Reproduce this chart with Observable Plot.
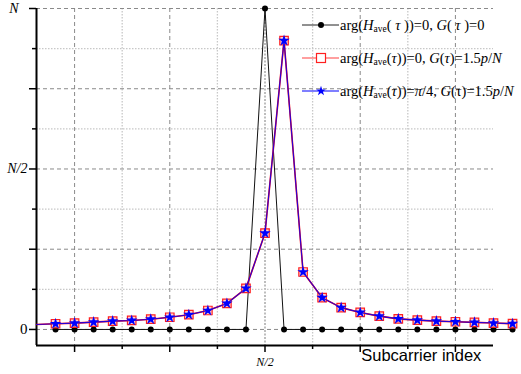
<!DOCTYPE html>
<html><head><meta charset="utf-8">
<script src="https://cdn.jsdelivr.net/npm/d3@7"></script>
<script src="https://cdn.jsdelivr.net/npm/@observablehq/plot@0.6"></script>
<style>
body{margin:0;background:#fff;}
#wrap{position:relative;width:521px;height:374px;}
#legend{position:absolute;left:0;top:0;font-family:"Liberation Serif",serif;font-size:14.5px;color:#000;}
.row{position:absolute;left:302px;height:16px;white-space:nowrap;display:flex;align-items:center;}
.row svg{display:block;}
sub{font-size:9.5px;vertical-align:-2px;}
</style></head>
<body><div id="wrap"><div id="legend"></div></div>
<script>
// subcarrier index (relative), N/2 sits at index 11
const idxBlack = d3.range(0, 25);
const valBlack = [0,0,0,0,0,0,0,0,0,0,0,1,0,0,0,0,0,0,0,0,0,0,0,0,0];
const idxShift = d3.range(-1, 25);
const valRed = [0.0156,0.0178,0.0197,0.0228,0.0259,0.028,0.032,0.038,0.046,0.059,0.081,0.128,0.300,0.900,0.179,0.099,0.068,0.053,0.0415,0.033,0.029,0.026,0.024,0.022,0.020,0.018];
const valBlue = [0.0156,0.0178,0.0197,0.0228,0.0259,0.028,0.032,0.038,0.046,0.059,0.081,0.128,0.300,0.900,0.179,0.099,0.068,0.053,0.0415,0.033,0.029,0.026,0.024,0.022,0.020,0.018];
const xMajor = [1, 6, 11, 16, 21];
const xGridDashed = [1, 6, 16, 21];
const xGridDotted = [3.5, 8.5, 13.5, 18.5];
const xGridCenter = [11];
const xMinor = [3.5, 8.5, 13.5, 18.5];
const yMajor = [0, 0.25, 0.5, 0.75, 1];
const yMinor = [0.125, 0.375, 0.625, 0.875];
const xTickLabels = [{v: 11, t: "N/2"}];
const yLabelTop = [{v: 1, t: "N"}];
const yLabelMid = [{v: 0.5, t: "N/2"}];
const yLabelZero = [{v: 0, t: "0"}];
const xTitle = ["Subcarrier index"];
const legendLabels = [
  'arg(<i>H</i><sub>ave</sub>( <i>τ</i> ))=0, <i>G</i>( <i>τ</i> )=0',
  'arg(<i>H</i><sub>ave</sub>(<i>τ</i>))=0, <i>G</i>(<i>τ</i>)=1.5<i>p</i>/<i>N</i>',
  'arg(<i>H</i><sub>ave</sub>(<i>τ</i>))=<i>π</i>/4, <i>G</i>(τ)=1.5<i>p</i>/<i>N</i>'
];

const black = idxBlack.map((x, i) => ({x, y: valBlack[i]}));
const red = idxShift.map((x, i) => ({x, y: valRed[i]}));
const blue = idxShift.map((x, i) => ({x, y: valBlue[i]}));
const redPts = red.filter(d => d.x >= 0);
const bluePts = blue.filter(d => d.x >= 0);

const chart = Plot.plot({
  width: 521, height: 374,
  marginLeft: 36, marginRight: 28, marginTop: 8, marginBottom: 29,
  x: {domain: [-1, 23], label: null},
  y: {domain: [-0.05, 1], label: null},
  style: {fontFamily: "'Liberation Serif', serif", fontSize: "13px", overflow: "visible", background: "#fff"},
  marks: [
    Plot.ruleX(xGridDotted, {stroke: "#c8c8c8", strokeDasharray: "1.5,1.5", strokeWidth: 1.3}),
    Plot.ruleX(xGridCenter, {stroke: "#bdbdbd", strokeDasharray: "2,1.5", strokeWidth: 2}),
    Plot.ruleY(yMinor, {stroke: "#c8c8c8", strokeDasharray: "1.5,1.5", strokeWidth: 1.3}),
    Plot.ruleX(xGridDashed, {stroke: "#8a8a8a", strokeDasharray: "4,3", strokeWidth: 1}),
    Plot.ruleY(yMajor, {stroke: "#8a8a8a", strokeDasharray: "4,3", strokeWidth: 1}),
    Plot.ruleX([-1], {stroke: "#000", strokeWidth: 2}),
    Plot.ruleY([-0.05], {stroke: "#000", strokeWidth: 2}),
    Plot.axisX(xMajor, {tickSize: 7, tickFormat: () => "", strokeWidth: 1.5, label: null}),
    Plot.axisX(xMinor, {tickSize: 4, tickFormat: () => "", strokeWidth: 1.5, label: null}),
    Plot.axisY(yMajor, {tickSize: 7, tickFormat: () => "", strokeWidth: 1.5, label: null}),
    Plot.axisY(yMinor, {tickSize: 4, tickFormat: () => "", strokeWidth: 1.5, label: null}),
    Plot.text(xTickLabels, {x: "v", y: -0.05, text: "t", dy: 17, fontStyle: "italic", fontSize: 12}),
    Plot.text(yLabelTop, {x: -1, y: "v", text: "t", dx: -18, textAnchor: "end", fontStyle: "italic", fontSize: 14}),
    Plot.text(yLabelMid, {x: -1, y: "v", text: "t", dx: -9, textAnchor: "end", fontStyle: "italic", fontSize: 14}),
    Plot.text(yLabelZero, {x: -1, y: "v", text: "t", dx: -9, textAnchor: "end", fontSize: 15}),
    Plot.text(xTitle, {x: 16, y: -0.05, text: d => d, textAnchor: "start", dx: 1, dy: 10, fontFamily: "'Liberation Sans', sans-serif", fontSize: 16.5}),
    Plot.line(black, {x: "x", y: "y", stroke: "#111", strokeWidth: 1}),
    Plot.dot(black, {x: "x", y: "y", r: 3, fill: "#000", stroke: "none"}),
    Plot.line(red, {x: "x", y: "y", stroke: "#ff0000", strokeWidth: 1.6}),
    Plot.dot(redPts, {x: "x", y: "y", symbol: "square", r: 4.8, stroke: "#ff2020", strokeWidth: 1.2, fill: "#ffb0b0", fillOpacity: 0.6}),
    Plot.line(blue, {x: "x", y: "y", stroke: "#0000ff", strokeWidth: 1.1, strokeOpacity: 0.85}),
    Plot.dot(bluePts, {x: "x", y: "y", symbol: "star", r: 3.6, fill: "#0000ff", stroke: "none"})
  ]
});
document.getElementById("wrap").prepend(chart);

// legend
const legend = document.getElementById("legend");
const markers = [
  '<line x1="0" y1="8" x2="37" y2="8" stroke="#222" stroke-width="1"/><circle cx="19" cy="8" r="3" fill="#000"/>',
  '<line x1="0" y1="8" x2="37" y2="8" stroke="#ff4040" stroke-width="1.2"/><rect x="14.5" y="3.5" width="9" height="9" fill="#fff" stroke="#ff2020" stroke-width="1.2"/>',
  '<line x1="0" y1="8" x2="37" y2="8" stroke="#0000ff" stroke-width="1.2"/><path transform="translate(19,8)" d="' + d3.symbol(d3.symbolStar, 30)() + '" fill="#0000ff"/>'
];
const rowTops = [17, 50, 83];
legendLabels.forEach((lab, i) => {
  const row = document.createElement("div");
  row.className = "row";
  row.style.top = rowTops[i] + "px";
  row.innerHTML = '<svg width="38" height="16">' + markers[i] + '</svg><span>' + lab + '</span>';
  legend.appendChild(row);
});
</script>
</body></html>
